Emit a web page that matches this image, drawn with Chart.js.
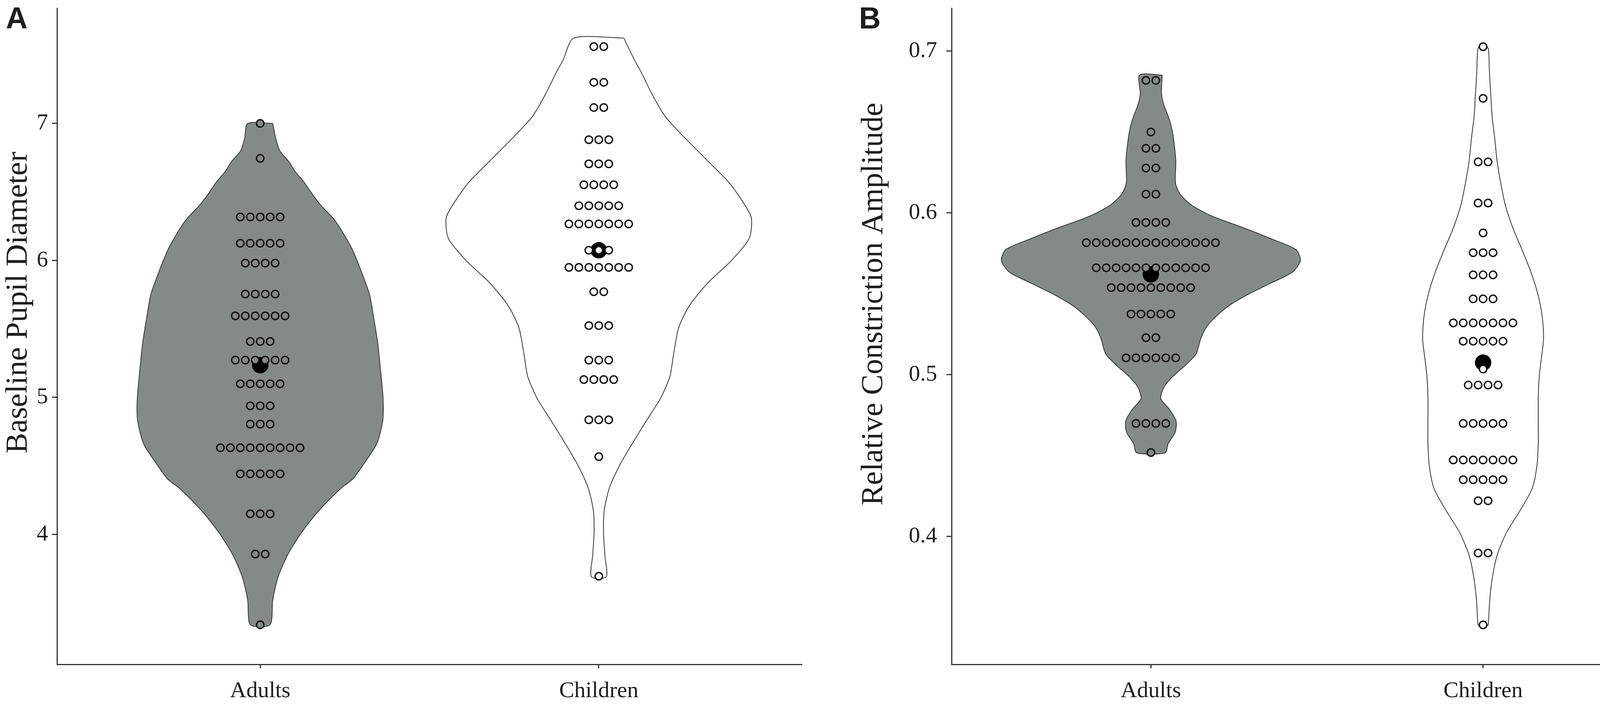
<!DOCTYPE html>
<html>
<head>
<meta charset="utf-8">
<script src="https://cdn.jsdelivr.net/npm/chart.js@4.4.1/dist/chart.umd.min.js"></script>
<style>
html,body{margin:0;padding:0;background:#fff;}
#wrap{position:relative;width:4328px;height:1804px;background:#fff;overflow:hidden;}
canvas{position:absolute;top:0;}
#cA{left:0;width:2100px;height:1804px;}
#cB{left:2150px;width:2178px;height:1804px;}
</style>
</head>
<body>
<div id="wrap">
<canvas id="cA" width="2100" height="1804"></canvas>
<canvas id="cB" width="2178" height="1804"></canvas>
</div>
<script>
// ---------- data ----------
const CATEGORIES = ['Adults', 'Children'];

// Panel A : Baseline Pupil Diameter
const A_TITLE = 'Baseline Pupil Diameter';
const A_Y_TICKS = [4, 5, 6, 7];
const A_ADULT_ROWS_Y = [7.00, 6.745, 6.317, 6.125, 5.98, 5.754, 5.595, 5.408, 5.272, 5.099, 4.938, 4.805, 4.632, 4.442, 4.15, 3.856, 3.34];
const A_ADULT_ROWS_N = [1, 1, 5, 5, 4, 4, 6, 3, 6, 5, 3, 3, 9, 5, 3, 2, 1];
const A_CHILD_ROWS_Y = [7.561, 7.30, 7.116, 6.881, 6.705, 6.552, 6.399, 6.266, 6.074, 5.949, 5.771, 5.524, 5.272, 5.13, 4.836, 4.567, 3.694];
const A_CHILD_ROWS_N = [2, 2, 2, 3, 3, 4, 5, 7, 3, 7, 2, 3, 3, 4, 3, 1, 1];
const A_MEANS = [5.235, 6.074];
const A_VIOLIN_ADULT_Y = [7.00, 6.89, 6.80, 6.72, 6.65, 6.57, 6.48, 6.40, 6.30, 6.20, 6.08, 5.93, 5.75, 5.57, 5.40, 5.21, 4.99, 4.83, 4.66, 4.50, 4.40, 4.34, 4.17, 4.01, 3.85, 3.69, 3.52, 3.34];
const A_VIOLIN_ADULT_W = [0.037, 0.046, 0.058, 0.085, 0.103, 0.130, 0.155, 0.180, 0.218, 0.245, 0.272, 0.297, 0.323, 0.336, 0.347, 0.355, 0.363, 0.362, 0.344, 0.302, 0.272, 0.240, 0.172, 0.121, 0.081, 0.053, 0.037, 0.029];
const A_VIOLIN_CHILD_Y = [7.623, 7.459, 7.38, 7.215, 7.054, 6.97, 6.892, 6.728, 6.567, 6.402, 6.306, 6.159, 5.997, 5.833, 5.671, 5.510, 5.317, 5.153, 4.992, 4.827, 4.663, 4.501, 4.337, 4.173, 4.011, 3.847, 3.691];
const A_VIOLIN_CHILD_W = [0.074, 0.106, 0.124, 0.157, 0.195, 0.225, 0.255, 0.321, 0.385, 0.432, 0.451, 0.444, 0.391, 0.321, 0.268, 0.236, 0.221, 0.210, 0.182, 0.140, 0.099, 0.061, 0.031, 0.016, 0.014, 0.018, 0.022];

// Panel B : Relative Constriction Amplitude
const B_TITLE = 'Relative Constriction Amplitude';
const B_Y_TICKS = [0.4, 0.5, 0.6, 0.7];
const B_ADULT_ROWS_Y = [0.6818, 0.6499, 0.6398, 0.6276, 0.6115, 0.594, 0.5815, 0.566, 0.5537, 0.5374, 0.5228, 0.5103, 0.4698, 0.4518];
const B_ADULT_ROWS_N = [2, 1, 2, 2, 2, 4, 14, 12, 9, 5, 2, 6, 4, 1];
const B_CHILD_ROWS_Y = [0.7026, 0.6707, 0.6314, 0.606, 0.5875, 0.5753, 0.5616, 0.5468, 0.5319, 0.5206, 0.5034, 0.4935, 0.4698, 0.4472, 0.435, 0.422, 0.3897, 0.3453];
const B_CHILD_ROWS_N = [1, 1, 2, 2, 1, 3, 3, 3, 7, 5, 1, 4, 5, 7, 5, 2, 2, 1];
const B_MEANS = [0.5619, 0.5074];
const B_VIOLIN_ADULT_Y = [0.6851, 0.6734, 0.6667, 0.6597, 0.6528, 0.6460, 0.6321, 0.6185, 0.6115, 0.6046, 0.5978, 0.5909, 0.5839, 0.5772, 0.5703, 0.5633, 0.5564, 0.5496, 0.5427, 0.5357, 0.5290, 0.5221, 0.5127, 0.5058, 0.4988, 0.4921, 0.4851, 0.4782, 0.4712, 0.4643, 0.4573, 0.4516];
const B_VIOLIN_ADULT_W = [0.034, 0.032, 0.039, 0.052, 0.062, 0.068, 0.075, 0.074, 0.088, 0.123, 0.185, 0.276, 0.362, 0.437, 0.450, 0.426, 0.360, 0.293, 0.236, 0.195, 0.166, 0.150, 0.136, 0.104, 0.066, 0.039, 0.030, 0.057, 0.076, 0.073, 0.052, 0.043];
const B_VIOLIN_CHILD_Y = [0.7046, 0.7010, 0.6873, 0.6734, 0.6597, 0.6460, 0.6321, 0.6185, 0.6046, 0.5909, 0.5772, 0.5633, 0.5496, 0.5357, 0.5221, 0.5127, 0.4988, 0.4851, 0.4712, 0.4573, 0.4436, 0.4297, 0.4158, 0.4022, 0.3882, 0.3746, 0.3607, 0.3468, 0.3448];
const B_VIOLIN_CHILD_W = [0.006, 0.016, 0.019, 0.023, 0.027, 0.035, 0.042, 0.053, 0.067, 0.089, 0.117, 0.144, 0.165, 0.178, 0.182, 0.177, 0.169, 0.166, 0.166, 0.166, 0.162, 0.148, 0.111, 0.070, 0.042, 0.028, 0.020, 0.016, 0.014];

// ---------- helpers ----------
const INK = '#1e1e1e';
const AXIS = '#333333';
const GREY = '#848a88';

function dotPoints(cat, ys, ns, step) {
  const pts = [];
  ys.forEach((y, i) => {
    const n = ns[i];
    for (let k = 0; k < n; k++) pts.push({ x: cat + (k - (n - 1) / 2) * step, y: y });
  });
  return pts;
}
function violinPoints(cat, ys, ws) {
  const right = ys.map((y, i) => ({ x: cat + ws[i], y: y }));
  const left = ys.map((y, i) => ({ x: cat - ws[i], y: y })).reverse();
  return right.concat(left, [right[0]]);
}

const annotPlugin = {
  id: 'annot',
  afterDraw(chart, args, o) {
    const c = chart.ctx;
    c.save();
    c.fillStyle = INK;
    c.font = 'bold 77px "Liberation Sans"';
    c.textAlign = 'left';
    c.textBaseline = 'alphabetic';
    c.fillText(o.letter, o.letterX, o.letterY);
    c.translate(o.titleX, o.titleY);
    c.rotate(-Math.PI / 2);
    c.font = '79px "Liberation Serif"';
    c.textAlign = 'center';
    c.fillText(o.title, 0, 0);
    c.restore();
  }
};

function makePanel(id, p) {
  const dotStyle = { borderColor: '#111111', borderWidth: 3.5, pointRadius: 9.5, pointStyle: 'circle' };
  const datasets = [
    Object.assign({ label: 'Adults dots', data: dotPoints(1, p.adY, p.adN, p.step), backgroundColor: GREY, order: 0 }, dotStyle),
    Object.assign({ label: 'Children dots', data: dotPoints(2, p.chY, p.chN, p.step), backgroundColor: '#ffffff', order: 0 }, dotStyle),
    { label: 'Means', data: [{ x: 1, y: p.means[0] }, { x: 2, y: p.means[1] }], backgroundColor: '#000', borderColor: '#000', borderWidth: 0, pointRadius: 21, order: 1 },
    { label: 'Adults violin', data: violinPoints(1, p.vaY, p.vaW), showLine: true, fill: 'shape', backgroundColor: GREY, borderColor: AXIS, borderWidth: 2, pointRadius: 0, tension: 0.25, order: 2 },
    { label: 'Children violin', data: violinPoints(2, p.vcY, p.vcW), showLine: true, fill: 'shape', backgroundColor: '#ffffff', borderColor: AXIS, borderWidth: 2, pointRadius: 0, tension: 0.25, order: 2 }
  ];
  return new Chart(document.getElementById(id), {
    type: 'scatter',
    data: { datasets: datasets },
    plugins: [annotPlugin],
    options: {
      responsive: false,
      animation: false,
      devicePixelRatio: 1,
      events: [],
      layout: { padding: { top: 9, right: p.padRight, left: 0, bottom: 0 } },
      plugins: {
        legend: { display: false },
        tooltip: { enabled: false },
        annot: p.annot
      },
      scales: {
        x: {
          type: 'linear', min: 0.4, max: 2.6,
          afterBuildTicks: s => { s.ticks = [1, 2].map(v => ({ value: v })); },
          afterFit: s => { s.height = 104; s.paddingLeft = 0; s.paddingRight = 0; },
          ticks: { callback: v => CATEGORIES[v - 1], font: { family: 'Liberation Serif', size: 58 }, color: INK, padding: 24, maxRotation: 0, autoSkip: false },
          grid: { display: true, drawOnChartArea: false, drawTicks: true, tickLength: 10, tickColor: AXIS, tickWidth: 3 },
          border: { display: true, color: AXIS, width: 3 }
        },
        y: {
          type: 'linear', min: p.yMin, max: p.yMax,
          afterBuildTicks: s => { s.ticks = p.yTicks.map(v => ({ value: v })); },
          afterFit: s => { s.width = p.axisW; s.paddingTop = 0; s.paddingBottom = 0; },
          ticks: { callback: p.fmt, font: { family: 'Liberation Serif', size: 58 }, color: INK, padding: p.tickPad, autoSkip: false },
          grid: { display: true, drawOnChartArea: false, drawTicks: true, tickLength: 13, tickColor: AXIS, tickWidth: 3 },
          border: { display: true, color: AXIS, width: 3 }
        }
      }
    }
  });
}

makePanel('cA', {
  adY: A_ADULT_ROWS_Y, adN: A_ADULT_ROWS_N, chY: A_CHILD_ROWS_Y, chN: A_CHILD_ROWS_N,
  means: A_MEANS, vaY: A_VIOLIN_ADULT_Y, vaW: A_VIOLIN_ADULT_W, vcY: A_VIOLIN_CHILD_Y, vcW: A_VIOLIN_CHILD_W,
  step: 0.0294, yMin: 3.051, yMax: 7.841, yTicks: A_Y_TICKS, fmt: v => String(v),
  axisW: 146, tickPad: 10, padRight: 47,
  annot: { letter: 'A', letterX: 15, letterY: 73, title: A_TITLE, titleX: 68, titleY: 774 }
});
makePanel('cB', {
  adY: B_ADULT_ROWS_Y, adN: B_ADULT_ROWS_N, chY: B_CHILD_ROWS_Y, chN: B_CHILD_ROWS_N,
  means: B_MEANS, vaY: B_VIOLIN_ADULT_Y, vaW: B_VIOLIN_ADULT_W, vcY: B_VIOLIN_CHILD_Y, vcW: B_VIOLIN_CHILD_W,
  step: 0.0299, yMin: 0.3209, yMax: 0.7264, yTicks: B_Y_TICKS, fmt: v => Number(v).toFixed(1),
  axisW: 286, tickPad: 24, padRight: 15,
  annot: { letter: 'B', letterX: 49, letterY: 73, title: B_TITLE, titleX: 108, titleY: 778 }
});
</script>
</body>
</html>
